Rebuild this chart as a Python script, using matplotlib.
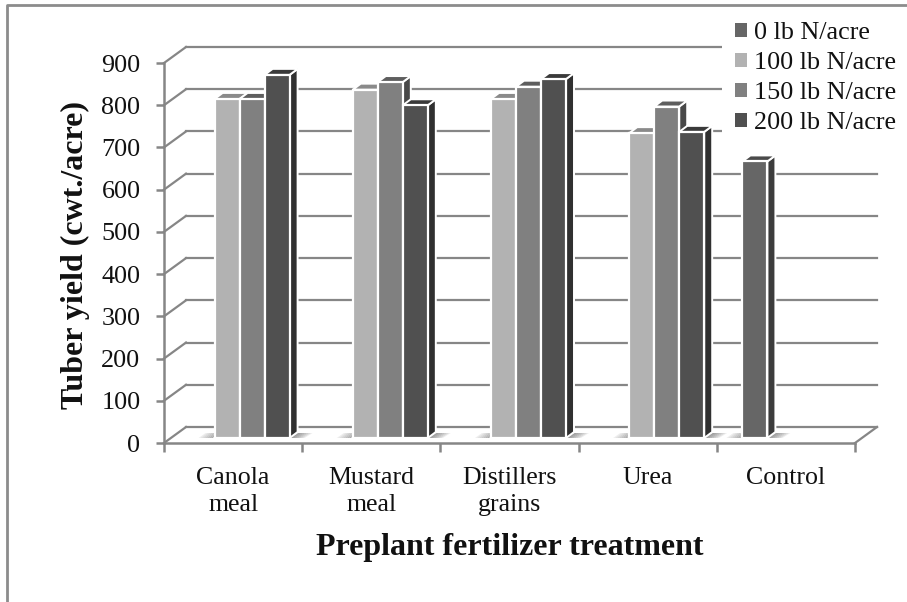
import matplotlib
matplotlib.use('Agg')
import matplotlib.pyplot as plt
from matplotlib.lines import Line2D
from matplotlib.patches import Polygon, Patch
from matplotlib.transforms import Affine2D, IdentityTransform

categories = ['Canola\nmeal', 'Mustard\nmeal', 'Distillers\ngrains', 'Urea', 'Control']
rates = ['0 lb N/acre', '100 lb N/acre', '150 lb N/acre', '200 lb N/acre']
n0 = [None, None, None, None, 655]
n100 = [803, 825, 803, 722, None]
n150 = [803, 843, 832, 785, None]
n200 = [860, 788, 850, 725, None]
y_ticks = [0, 100, 200, 300, 400, 500, 600, 700, 800, 900]

W, H = 907, 602
front_colors = ['#666666', '#b2b2b2', '#808080', '#505050']
top_colors = ['#4a4a4a', '#8a8a8a', '#5e5e5e', '#3a3a3a']
side_colors = ['#3c3c3c', '#5a5a5a', '#484848', '#303030']
axis_gray = '#868686'
text_color = '#111111'

plt.rcParams['font.family'] = ['Liberation Serif', 'DejaVu Serif']

fig = plt.figure(figsize=(W / 100, H / 100), dpi=100)
# pixel box of the front plane
left, right, top, bottom = 164, 855, 63, 443
ax = fig.add_axes([left / W, 1 - bottom / H, (right - left) / W, (bottom - top) / H])
ax.set_xlim(0, len(categories))
ax.set_ylim(0, 900)
ax.patch.set_visible(False)

# outer frame of the pasted picture
fig.add_artist(Line2D([7 / W, 7 / W, 1], [0, 1 - 5 / H, 1 - 5 / H], color='#8c8c8c', lw=2))

# back wall grid and the diagonals that lead to it
depth_x, depth_y = 22, 16
back = ax.transData + Affine2D().translate(depth_x, depth_y)
for t in y_ticks:
    ax.plot([0, len(categories)], [t, t], color=axis_gray, lw=1.6, transform=back, clip_on=False, zorder=1)
    p = ax.transData.transform((0, t))
    ax.plot([p[0], p[0] + depth_x], [p[1], p[1] + depth_y], color=axis_gray, lw=1.6,
            transform=IdentityTransform(), clip_on=False, zorder=1)
p = ax.transData.transform((len(categories), 0))
ax.plot([p[0], p[0] + depth_x], [p[1], p[1] + depth_y], color=axis_gray, lw=1.6,
        transform=IdentityTransform(), clip_on=False, zorder=1)

# bars, slightly lifted off the front edge of the floor
lift = ax.transData + Affine2D().translate(0, 5)
slot = 25 / 138.2
shift = 6.5 / 138.2
bar_dx, bar_dy = 8, 6
series = [n0, n100, n150, n200]
z = 3
for i in range(len(categories)):
    used = [j for j in range(4) if series[j][i] is not None]
    x_first = i + 0.5 + shift + (used[0] - 2) * slot
    x_last = i + 0.5 + shift + (used[-1] - 1) * slot
    # soft shadow on the floor either side of the group
    a = lift.transform((x_first, 0))
    b = lift.transform((x_last, 0))
    for k in range(7):
        ax.add_patch(Polygon([(a[0] - 2 - 2 * k, a[1]), (a[0] - 2 - 2 * k - 2, a[1]),
                              (a[0] - 2 - 2 * k + 5, a[1] + 5), (a[0] - 2 - 2 * k + 7, a[1] + 5)],
                             closed=True, fc='#8c8c8c', ec='none', alpha=0.75 - 0.1 * k,
                             transform=IdentityTransform(), clip_on=False, zorder=2))
        ax.add_patch(Polygon([(b[0] + 2 * k, b[1]), (b[0] + 2 * k + 3, b[1]),
                              (b[0] + 2 * k + 11, b[1] + 5), (b[0] + 2 * k + 8, b[1] + 5)],
                             closed=True, fc='#8c8c8c', ec='none', alpha=0.75 - 0.1 * k,
                             transform=IdentityTransform(), clip_on=False, zorder=2))
    for j in used:
        value = series[j][i]
        x0 = i + 0.5 + shift + (j - 2) * slot
        x1 = x0 + slot
        ax.bar(x0, value, width=slot, align='edge', color=front_colors[j], edgecolor='white', linewidth=1.6,
               transform=lift, clip_on=False, zorder=z + 1)
        bl = lift.transform((x0, 0))
        br = lift.transform((x1, 0))
        tl = lift.transform((x0, value))
        tr = lift.transform((x1, value))
        ax.add_patch(Polygon([br, tr, (tr[0] + bar_dx, tr[1] + bar_dy), (br[0] + bar_dx, br[1] + bar_dy)],
                             closed=True, fc=side_colors[j], ec='white', lw=1.4,
                             transform=IdentityTransform(), clip_on=False, zorder=z))
        ax.add_patch(Polygon([tl, tr, (tr[0] + bar_dx, tr[1] + bar_dy), (tl[0] + bar_dx, tl[1] + bar_dy)],
                             closed=True, fc=top_colors[j], ec='white', lw=1.4,
                             transform=IdentityTransform(), clip_on=False, zorder=z))
        z += 2

# axes
for name in ['top', 'right']:
    ax.spines[name].set_visible(False)
for name in ['left', 'bottom']:
    ax.spines[name].set_color(axis_gray)
    ax.spines[name].set_linewidth(1.8)
    ax.spines[name].set_zorder(2)
ax.set_yticks(y_ticks)
ax.set_xticks(range(len(categories) + 1))
ax.set_xticklabels([])
ax.set_xticks([i + 0.5 for i in range(len(categories))], minor=True)
ax.set_xticklabels(categories, minor=True, fontsize=18.6, color=text_color, linespacing=1.3)
ax.tick_params(axis='x', which='major', length=6.5, width=1.8, color=axis_gray)
ax.tick_params(axis='x', which='minor', length=0, pad=17)
ax.tick_params(axis='y', length=6, width=1.8, color=axis_gray, labelsize=18.8, labelcolor=text_color, pad=11)

fig.text(75 / W, 1 - 255 / H, 'Tuber yield (cwt./acre)', rotation=90, ha='center', va='center',
         fontsize=23, fontweight='bold', color=text_color)
fig.text(510 / W, 1 - 547 / H, 'Preplant fertilizer treatment', ha='center', va='center',
         fontsize=23, fontweight='bold', color=text_color)

handles = [Patch(fc=c, ec='none', label=r) for c, r in zip(front_colors, rates)]
leg = ax.legend(handles=handles, loc='upper left', bbox_to_anchor=(722 / W, 1 - 9 / H),
                bbox_transform=fig.transFigure, frameon=True, facecolor='white', edgecolor='none', framealpha=1,
                fontsize=18.8, labelcolor=text_color, handlelength=0.47, handleheight=0.47, handletextpad=0.27,
                labelspacing=0.31, borderpad=0.5, borderaxespad=0)
leg.set_zorder(2.5)

fig.savefig('out.png', dpi=100)
